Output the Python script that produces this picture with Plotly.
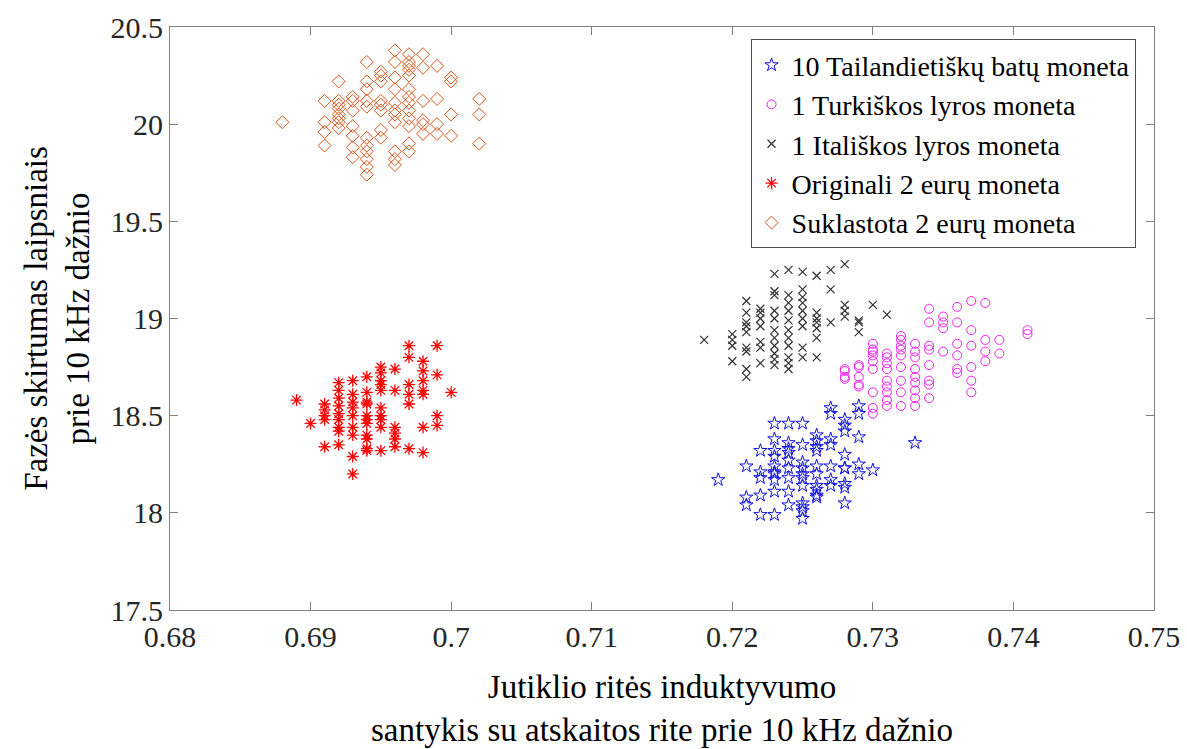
import plotly.graph_objects as go

# ---- data ----
thai_x = [0.719,
          0.721, 0.721, 0.721,
          0.722, 0.722, 0.722, 0.722, 0.722,
          0.723, 0.723, 0.723, 0.723, 0.723, 0.723, 0.723, 0.723, 0.723, 0.723,
          0.724, 0.724, 0.724, 0.724, 0.724, 0.724, 0.724, 0.724, 0.724,
          0.725, 0.725, 0.725, 0.725, 0.725, 0.725, 0.725, 0.725, 0.725, 0.725, 0.725,
          0.726, 0.726, 0.726, 0.726, 0.726, 0.726, 0.726, 0.726, 0.726, 0.726,
          0.727, 0.727, 0.727, 0.727, 0.727, 0.727, 0.727,
          0.728, 0.728, 0.728, 0.728, 0.728, 0.728, 0.728, 0.728, 0.728,
          0.729, 0.729, 0.729, 0.729, 0.729,
          0.730, 0.733]
thai_y = [18.17,
          18.24, 18.08, 18.04,
          18.32, 18.21, 18.18, 18.09, 17.99,
          18.46, 18.38, 18.32, 18.29, 18.24, 18.21, 18.20, 18.17, 18.11, 17.99,
          18.46, 18.36, 18.33, 18.31, 18.27, 18.23, 18.18, 18.11, 18.04,
          18.46, 18.35, 18.26, 18.23, 18.20, 18.18, 18.14, 18.05, 18.03, 18.01, 17.97,
          18.40, 18.37, 18.34, 18.32, 18.24, 18.20, 18.14, 18.12, 18.09, 18.08,
          18.54, 18.51, 18.38, 18.35, 18.24, 18.17, 18.14,
          18.48, 18.45, 18.42, 18.30, 18.23, 18.23, 18.15, 18.13, 18.05,
          18.55, 18.51, 18.39, 18.25, 18.20,
          18.22, 18.36]

turk_x = [0.728, 0.728, 0.728, 0.728,
          0.729, 0.729, 0.729, 0.729, 0.729,
          0.730, 0.730, 0.730, 0.730, 0.730, 0.730, 0.730, 0.730, 0.730,
          0.731, 0.731, 0.731, 0.731, 0.731, 0.731, 0.731, 0.731, 0.731,
          0.732, 0.732, 0.732, 0.732, 0.732, 0.732, 0.732, 0.732, 0.732,
          0.733, 0.733, 0.733, 0.733, 0.733, 0.733, 0.733, 0.733, 0.733,
          0.734, 0.734, 0.734, 0.734, 0.734, 0.734, 0.734, 0.734,
          0.735, 0.735, 0.735, 0.735,
          0.736, 0.736, 0.736, 0.736, 0.736, 0.736,
          0.737, 0.737, 0.737, 0.737, 0.737, 0.737,
          0.738, 0.738, 0.738, 0.738,
          0.739, 0.739,
          0.741, 0.741]
turk_y = [18.74, 18.70, 18.73, 18.69,
          18.76, 18.70, 18.66, 18.75, 18.65,
          18.87, 18.84, 18.81, 18.78, 18.74, 18.62, 18.54, 18.51, 18.83,
          18.82, 18.80, 18.77, 18.74, 18.68, 18.65, 18.62, 18.58, 18.55,
          18.91, 18.89, 18.86, 18.84, 18.81, 18.75, 18.68, 18.62, 18.55,
          18.87, 18.83, 18.80, 18.74, 18.70, 18.67, 18.63, 18.59, 18.55,
          19.05, 18.98, 18.86, 18.84, 18.76, 18.68, 18.66, 18.59,
          19.01, 18.98, 18.95, 18.83,
          19.06, 18.98, 18.87, 18.81, 18.74, 18.72,
          19.09, 18.94, 18.86, 18.75, 18.68, 18.62,
          19.08, 18.89, 18.83, 18.78,
          18.89, 18.82,
          18.94, 18.92]

ital_x = [0.718,
          0.720, 0.720, 0.720, 0.720,
          0.721, 0.721, 0.721, 0.721, 0.721, 0.721, 0.721, 0.721, 0.721,
          0.722, 0.722, 0.722, 0.722, 0.722, 0.722, 0.722,
          0.723, 0.723, 0.723, 0.723, 0.723, 0.723, 0.723, 0.723, 0.723, 0.723, 0.723,
          0.724, 0.724, 0.724, 0.724, 0.724, 0.724, 0.724, 0.724, 0.724, 0.724, 0.724,
          0.725, 0.725, 0.725, 0.725, 0.725, 0.725, 0.725, 0.725, 0.725,
          0.726, 0.726, 0.726, 0.726, 0.726, 0.726, 0.726,
          0.727, 0.727, 0.727,
          0.728, 0.728, 0.728, 0.728,
          0.729, 0.729, 0.729,
          0.730, 0.731]
ital_y = [18.89,
          18.92, 18.89, 18.86, 18.78,
          19.09, 19.03, 18.98, 18.96, 18.93, 18.85, 18.83, 18.74, 18.70,
          19.05, 19.03, 19.00, 18.96, 18.88, 18.85, 18.77,
          19.23, 19.14, 19.12, 19.04, 19.00, 18.94, 18.90, 18.86, 18.82, 18.79, 18.76,
          19.25, 19.12, 19.08, 19.04, 18.99, 18.94, 18.90, 18.86, 18.80, 18.77, 18.74,
          19.24, 19.15, 19.11, 19.08, 19.04, 19.00, 18.96, 18.85, 18.80,
          19.22, 19.03, 19.00, 18.98, 18.95, 18.90, 18.80,
          19.25, 19.15, 18.98,
          19.28, 19.07, 19.04, 19.01,
          18.99, 18.98, 18.93,
          19.07, 19.02]

orig_x = [0.689, 0.690,
          0.691, 0.691, 0.691, 0.691, 0.691,
          0.692, 0.692, 0.692, 0.692, 0.692, 0.692, 0.692, 0.692, 0.692,
          0.693, 0.693, 0.693, 0.693, 0.693, 0.693, 0.693, 0.693, 0.693,
          0.694, 0.694, 0.694, 0.694, 0.694, 0.694, 0.694, 0.694, 0.694, 0.694, 0.694,
          0.695, 0.695, 0.695, 0.695, 0.695, 0.695, 0.695, 0.695, 0.695, 0.695,
          0.696, 0.696, 0.696, 0.696, 0.696, 0.696,
          0.697, 0.697, 0.697, 0.697, 0.697, 0.697,
          0.698, 0.698, 0.698, 0.698, 0.698, 0.698, 0.698,
          0.699, 0.699, 0.699, 0.699,
          0.700]
orig_y = [18.58, 18.46,
          18.56, 18.53, 18.50, 18.48, 18.34,
          18.67, 18.63, 18.59, 18.55, 18.51, 18.48, 18.44, 18.42, 18.35,
          18.68, 18.61, 18.57, 18.54, 18.50, 18.44, 18.40, 18.29, 18.20,
          18.70, 18.62, 18.57, 18.56, 18.50, 18.48, 18.46, 18.40, 18.38, 18.33, 18.32,
          18.75, 18.72, 18.68, 18.66, 18.63, 18.54, 18.50, 18.48, 18.44, 18.32,
          18.74, 18.63, 18.44, 18.41, 18.38, 18.34,
          18.86, 18.80, 18.66, 18.61, 18.56, 18.33,
          18.78, 18.73, 18.68, 18.63, 18.61, 18.44, 18.31,
          18.86, 18.71, 18.50, 18.45,
          18.62]

fake_x = [0.688,
          0.691, 0.691, 0.691, 0.691,
          0.692, 0.692, 0.692, 0.692, 0.692, 0.692, 0.692, 0.692,
          0.693, 0.693, 0.693, 0.693, 0.693, 0.693, 0.693,
          0.694, 0.694, 0.694, 0.694, 0.694, 0.694, 0.694, 0.694, 0.694, 0.694, 0.694,
          0.695, 0.695, 0.695, 0.695, 0.695, 0.695, 0.695, 0.695,
          0.696, 0.696, 0.696, 0.696, 0.696, 0.696, 0.696, 0.696, 0.696, 0.696, 0.696,
          0.697, 0.697, 0.697, 0.697, 0.697, 0.697, 0.697, 0.697, 0.697, 0.697, 0.697, 0.697, 0.697,
          0.698, 0.698, 0.698, 0.698, 0.698, 0.698,
          0.699, 0.699, 0.699, 0.699,
          0.700, 0.700, 0.700, 0.700,
          0.702, 0.702, 0.702]
fake_y = [20.01,
          20.12, 20.01, 19.96, 19.89,
          20.22, 20.12, 20.10, 20.08, 20.05, 20.03, 20.01, 19.98,
          20.14, 20.12, 20.07, 19.99, 19.94, 19.88, 19.83,
          20.32, 20.22, 20.18, 20.12, 20.09, 19.93, 19.89, 19.86, 19.82, 19.78, 19.74,
          20.27, 20.25, 20.22, 20.12, 20.10, 20.07, 19.97, 19.93,
          20.38, 20.32, 20.24, 20.18, 20.11, 20.07, 20.05, 20.01, 19.86, 19.82, 19.79,
          20.36, 20.32, 20.30, 20.28, 20.25, 20.18, 20.14, 20.11, 20.07, 20.03, 19.99, 19.90, 19.86,
          20.36, 20.29, 20.12, 20.02, 20.00, 19.95,
          20.30, 20.13, 20.00, 19.95,
          20.24, 20.22, 20.05, 19.94,
          20.13, 20.05, 19.90]

x_ticks = [0.68, 0.69, 0.70, 0.71, 0.72, 0.73, 0.74, 0.75]
x_tick_text = ["0.68", "0.69", "0.7", "0.71", "0.72", "0.73", "0.74", "0.75"]
y_ticks = [17.5, 18, 18.5, 19, 19.5, 20, 20.5]
y_tick_text = ["17.5", "18", "18.5", "19", "19.5", "20", "20.5"]

names = ["10 Tailandietiškų batų moneta", "1 Turkiškos lyros moneta",
         "1 Itališkos lyros moneta", "Originali 2 eurų moneta",
         "Suklastota 2 eurų moneta"]

FONT = "Liberation Serif"

series = [
    (thai_x, thai_y, "star-open", 10, "#1010e0", 1.0),
    (turk_x, turk_y, "circle-open", 9, "#f020f0", 1.0),
    (ital_x, ital_y, "x-thin-open", 8, "#303030", 1.2),
    (orig_x, orig_y, "asterisk-open", 10, "#ff0000", 1.3),
    (fake_x, fake_y, "diamond-open", 10, "#d95319", 1.0),
]

fig = go.Figure()
for (xs, ys, sym, sz, col, lw), nm in zip(series, names):
    fig.add_trace(go.Scatter(
        x=xs, y=ys, mode="markers", name=nm,
        marker=dict(symbol=sym, size=sz, color=col, line=dict(color=col, width=lw)),
    ))

axis_common = dict(
    showline=True, linecolor="#808080", linewidth=1, mirror="ticks",
    ticks="inside", ticklen=8, tickcolor="#808080", tickwidth=1,
    showgrid=False, zeroline=False,
    tickfont=dict(family=FONT, size=30, color="#262626"),
)

fig.update_xaxes(range=[0.68, 0.75], tickvals=x_ticks, ticktext=x_tick_text,
                 title=dict(text="Jutiklio ritės induktyvumo<br>santykis su atskaitos rite prie 10 kHz dažnio",
                            font=dict(family=FONT, size=33, color="#000000"), standoff=22),
                 **axis_common)
fig.update_yaxes(range=[17.5, 20.5], tickvals=y_ticks, ticktext=y_tick_text,
                 title=dict(text="Fazės skirtumas laipsniais<br>prie 10 kHz dažnio",
                            font=dict(family=FONT, size=33, color="#000000"), standoff=10),
                 **axis_common)

fig.update_layout(
    width=1187, height=749,
    margin=dict(l=170, r=33, t=27, b=139, autoexpand=False),
    paper_bgcolor="white", plot_bgcolor="white",
    font=dict(family=FONT),
    legend=dict(
        x=0.59, y=0.979, xanchor="left", yanchor="top",
        bgcolor="white", bordercolor="#505050", borderwidth=1,
        font=dict(family=FONT, size=28, color="#000000"),
        itemsizing="trace", tracegroupgap=0,
    ),
)

fig.write_html("out.html")
